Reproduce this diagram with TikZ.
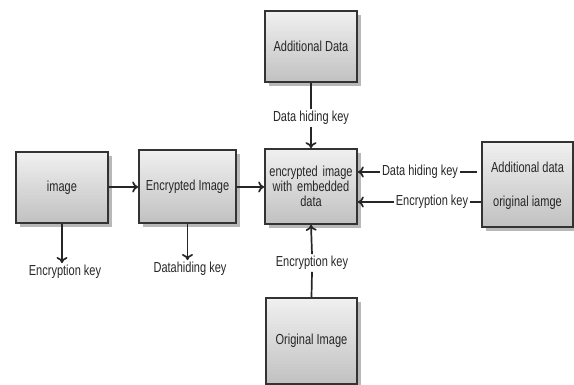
\documentclass[tikz,border=0pt]{standalone}
\usepackage{fontspec}
\setmainfont{Liberation Sans}[FakeStretch=0.76]
\usetikzlibrary{arrows.meta,shadows,calc}

% vertical light-to-grey fill built from thin bands
\tikzset{
  bandfill/.style={
    path picture={
      \foreach \i in {0,...,29}{
        \pgfmathsetmacro\shadeamt{6+18*\i/29}
        \fill[black!\shadeamt]
          ($(path picture bounding box.north west)!{\i/30}!(path picture bounding box.south west)$)
          rectangle
          ($(path picture bounding box.north east)!{min(1,(\i+1.3)/30)}!(path picture bounding box.south east)$);
      }
    }
  }
}

\begin{document}
\begin{tikzpicture}[x=1pt,y=1pt,
  txt/.style={font=\fontsize{14.5}{15}\selectfont, text=black!85},
  box/.style={txt, draw=black!80, line width=1.7pt, fill=white, bandfill,
    drop shadow={shadow xshift=4pt, shadow yshift=-4pt, fill=black!35, opacity=0.8},
    align=center, inner sep=2pt},
  lbl/.style={txt, inner sep=2pt},
  conn/.style={line width=1.7pt, draw=black!85},
  arr/.style={conn, -{To[length=6pt,width=11pt]}}
]
\useasboundingbox (0,0) rectangle (574,385);

% blocks
\node[box, minimum width=92pt, minimum height=71pt] (img)  at (62,197.5)  {image};
\node[box, minimum width=97pt, minimum height=73pt] (enc)  at (187.5,198.5) {Encrypted Image};
\node[box, minimum width=92pt, minimum height=71pt] (add)  at (311,338.5)  {Additional Data};
\node[box, minimum width=92pt, minimum height=75pt, text width=86pt] (mid) at (311,198.5)
  {encrypted image\\with embedded\\data};
\node[box, minimum width=91pt, minimum height=86pt] (orig) at (311.5,44) {Original Image};
\node[box, minimum width=91pt, minimum height=85pt] (rt)   at (527.5,200.5) {};
\node[lbl] (rtop) at (527.5,218) {Additional data};
\node[lbl] (rbot) at (527.5,182) {original iamge};

% key labels
\node[lbl] (k1) at (65,113)   {Encryption key};
\node[lbl] (k2) at (190,116)  {Datahiding key};
\node[lbl] (k3) at (311,267)  {Data hiding key};
\node[lbl] (k4) at (420,213)  {Data hiding key};
\node[lbl] (k5) at (432,183)  {Encryption key};
\node[lbl] (k6) at (312,122)  {Encryption key};

% main flow
\draw[arr] (img.east |- 0,198) -- (enc.west |- 0,198);
\draw[arr] (enc.east |- 0,198) -- (mid.west |- 0,198);

% keys produced below the first two blocks
\draw[arr] (img.south) -- (k1.north -| img.south);
\draw[arr] (enc.south) -- (k2.north -| enc.south);

% data hiding key from above
\draw[conn] (add.south) -- (k3.north);
\draw[arr] (k3.south) -- (mid.north);

% keys from the right-hand block
\draw[conn] (k4.east) -- ([xshift=-4pt]rt.west |- k4.east);
\draw[arr] (k4.west) -- (mid.east |- k4.west);
\draw[conn] (k5.east) -- (rt.west |- k5.east);
\draw[arr] (k5.west) -- (mid.east |- k5.west);

% encryption key from below
\draw[conn] (orig.north) -- (k6.south);
\draw[arr] (k6.north) -- (mid.south);
\end{tikzpicture}
\end{document}
